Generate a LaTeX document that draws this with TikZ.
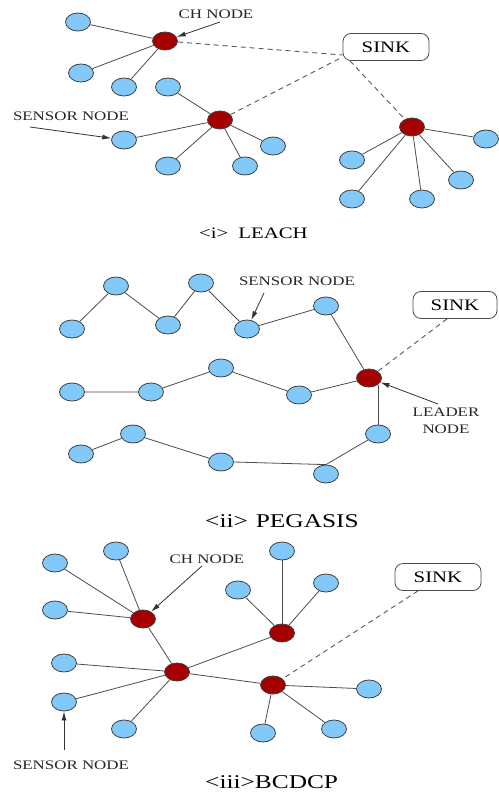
\documentclass[tikz,border=0pt]{standalone}
\usepackage{fontspec}
\setmainfont[FakeStretch=1.3]{Liberation Serif}
\usetikzlibrary{shapes.geometric,arrows.meta}
\definecolor{snblue}{RGB}{130,200,248}
\definecolor{chred}{RGB}{165,0,0}
\tikzset{
  sn/.style={ellipse, draw=black!75, fill=snblue, minimum width=25pt, minimum height=18pt, inner sep=0pt, line width=0.8pt},
  ch/.style={sn, fill=chred},
  lk/.style={draw=black!70, line width=0.8pt},
  dl/.style={draw=black!65, line width=0.9pt, dash pattern=on 5pt off 4pt},
  sinkbox/.style={draw=black!70, line width=0.8pt, rounded corners=8pt, minimum width=86pt, minimum height=27pt, inner sep=0pt, font=\fontsize{16}{18}\selectfont, fill=white},
  lbl/.style={font=\fontsize{13}{14}\selectfont, text=black!85, inner sep=0pt},
  ttl/.style={anchor=base west, inner sep=0pt, text=black},
  ar/.style={-{Latex[length=9pt,width=5pt]}, line width=0.8pt, draw=black!80},
}
\begin{document}
\begin{tikzpicture}[x=1pt,y=-1pt]
\useasboundingbox[fill=white] (0,0) rectangle (498,794);

% ---------------- LEACH ----------------
\node[ch] (c1) at (165,41) {};
\node[sn] (a1) at (78,22) {};
\node[sn] (a2) at (81,73) {};
\node[sn] (a3) at (124,87) {};
\node[sn] (a4) at (168,87) {};
\node[ch] (c2) at (220,120) {};
\node[sn] (a5) at (124,140) {};
\node[sn] (a6) at (168,166) {};
\node[sn] (a7) at (245,166) {};
\node[sn] (a8) at (273,146) {};
\node[ch] (c3) at (412,127) {};
\node[sn] (a9) at (352,160) {};
\node[sn] (a10) at (352,199) {};
\node[sn] (a11) at (422,199) {};
\node[sn] (a12) at (461,180) {};
\node[sn] (a13) at (486,139) {};
\node[sinkbox] (s1) at (386,47) {SINK};

\foreach \n in {a1,a2,a3} \draw[lk] (c1) -- (\n);
\foreach \n in {a4,a5,a6,a7,a8} \draw[lk] (c2) -- (\n);
\foreach \n in {a9,a10,a11,a12,a13} \draw[lk] (c3) -- (\n);
\draw[dl] (c1) -- ([yshift=-8pt]s1.west);
\draw[dl] (c2) -- ([yshift=-10pt]s1.west);
\draw[dl] ([xshift=-36pt]s1.south) -- (c3);

\node[lbl] (l1) at (216,14) {CH NODE};
\coordinate (l1a) at (220,22);
\draw[ar] (l1a) -- (c1);
\node[lbl] (l2) at (71,116) {SENSOR NODE};
\coordinate (l2a) at (30,127);
\draw[ar] (l2a) -- (a5);
\node[ttl, font=\fontsize{16}{18}\selectfont] (t1) at (199,239) {<i>\hspace{10pt}LEACH};

% ---------------- PEGASIS ----------------
\node[sn] (p1) at (72,329) {};
\node[sn] (p2) at (116,286) {};
\node[sn] (p3) at (168,325) {};
\node[sn] (p4) at (201,283) {};
\node[sn] (p5) at (247,329) {};
\node[sn] (p6) at (326,306) {};
\node[ch] (ld) at (369,378) {};
\node[sn] (q1) at (72,392) {};
\node[sn] (q2) at (151,392) {};
\node[sn] (q3) at (221,368) {};
\node[sn] (q4) at (299,395) {};
\node[sn] (r1) at (81,454) {};
\node[sn] (r2) at (133,434) {};
\node[sn] (r3) at (221,462) {};
\node[sn] (r4) at (326,474) {};
\node[sn] (r5) at (378,434) {};
\node[sinkbox, minimum width=84pt] (s2) at (455,305) {SINK};

\draw[lk] (p1) -- (p2) -- (p3) -- (p4) -- (p5) -- (p6) -- (ld);
\draw[lk] (q1) -- (q2) -- (q3) -- (q4) -- (ld);
\draw[lk] (r1) -- (r2) -- (r3);
\draw[lk] (r3.east) -- (r4.north);
\draw[lk] (r4.north) -- (r5);
\draw[lk] (r5.north) -- (r5.north |- ld.south east);
\draw[dl] ([xshift=-8pt]s2.south) -- (ld);

\node[lbl] (l3) at (297,281) {SENSOR NODE};
\coordinate (l3a) at (264,293);
\draw[ar] (l3a) -- (p5);
\node[lbl, align=center] (l4) at (446,421) {LEADER\\[3pt]NODE};
\coordinate (l4a) at (438,404);
\draw[ar] (l4a) -- (ld);
\node[ttl, font=\fontsize{19.5}{22}\selectfont] (t2) at (205,527) {<ii>\hspace{8pt}PEGASIS};

% ---------------- BCDCP ----------------
\node[sn] (b1) at (55,563) {};
\node[sn] (b2) at (116,551) {};
\node[sn] (b3) at (55,610) {};
\node[ch] (ca) at (143,619) {};
\node[sn] (b4) at (64,663) {};
\node[sn] (b5) at (64,702) {};
\node[sn] (b6) at (124,729) {};
\node[ch] (cb) at (177,672) {};
\node[sn] (b7) at (238,590) {};
\node[sn] (b8) at (282,551) {};
\node[sn] (b9) at (326,583) {};
\node[ch] (cc) at (282,633) {};
\node[ch] (cd) at (273,685) {};
\node[sn] (b10) at (369,689) {};
\node[sn] (b11) at (334,729) {};
\node[sn] (b12) at (263,733) {};
\node[sinkbox] (s3) at (438,577) {SINK};

\foreach \n in {b1,b2,b3,cb} \draw[lk] (ca) -- (\n);
\foreach \n in {b4,b5,b6,cc,cd} \draw[lk] (cb) -- (\n);
\foreach \n in {b7,b8,b9} \draw[lk] (cc) -- (\n);
\foreach \n in {b10,b11,b12} \draw[lk] (cd) -- (\n);
\draw[dl] ([xshift=-20pt]s3.south) -- (cd);

\node[lbl] (l5) at (207,559) {CH NODE};
\coordinate (l5a) at (202,566);
\draw[ar] (l5a) -- (ca);
\node[lbl] (l6) at (71,765) {SENSOR NODE};
\coordinate (l6a) at (64,750);
\draw[ar] (l6a) -- (b5);
\node[ttl, font=\fontsize{19.5}{22}\selectfont] (t3) at (205,788) {<iii>BCDCP};
\end{tikzpicture}
\end{document}
